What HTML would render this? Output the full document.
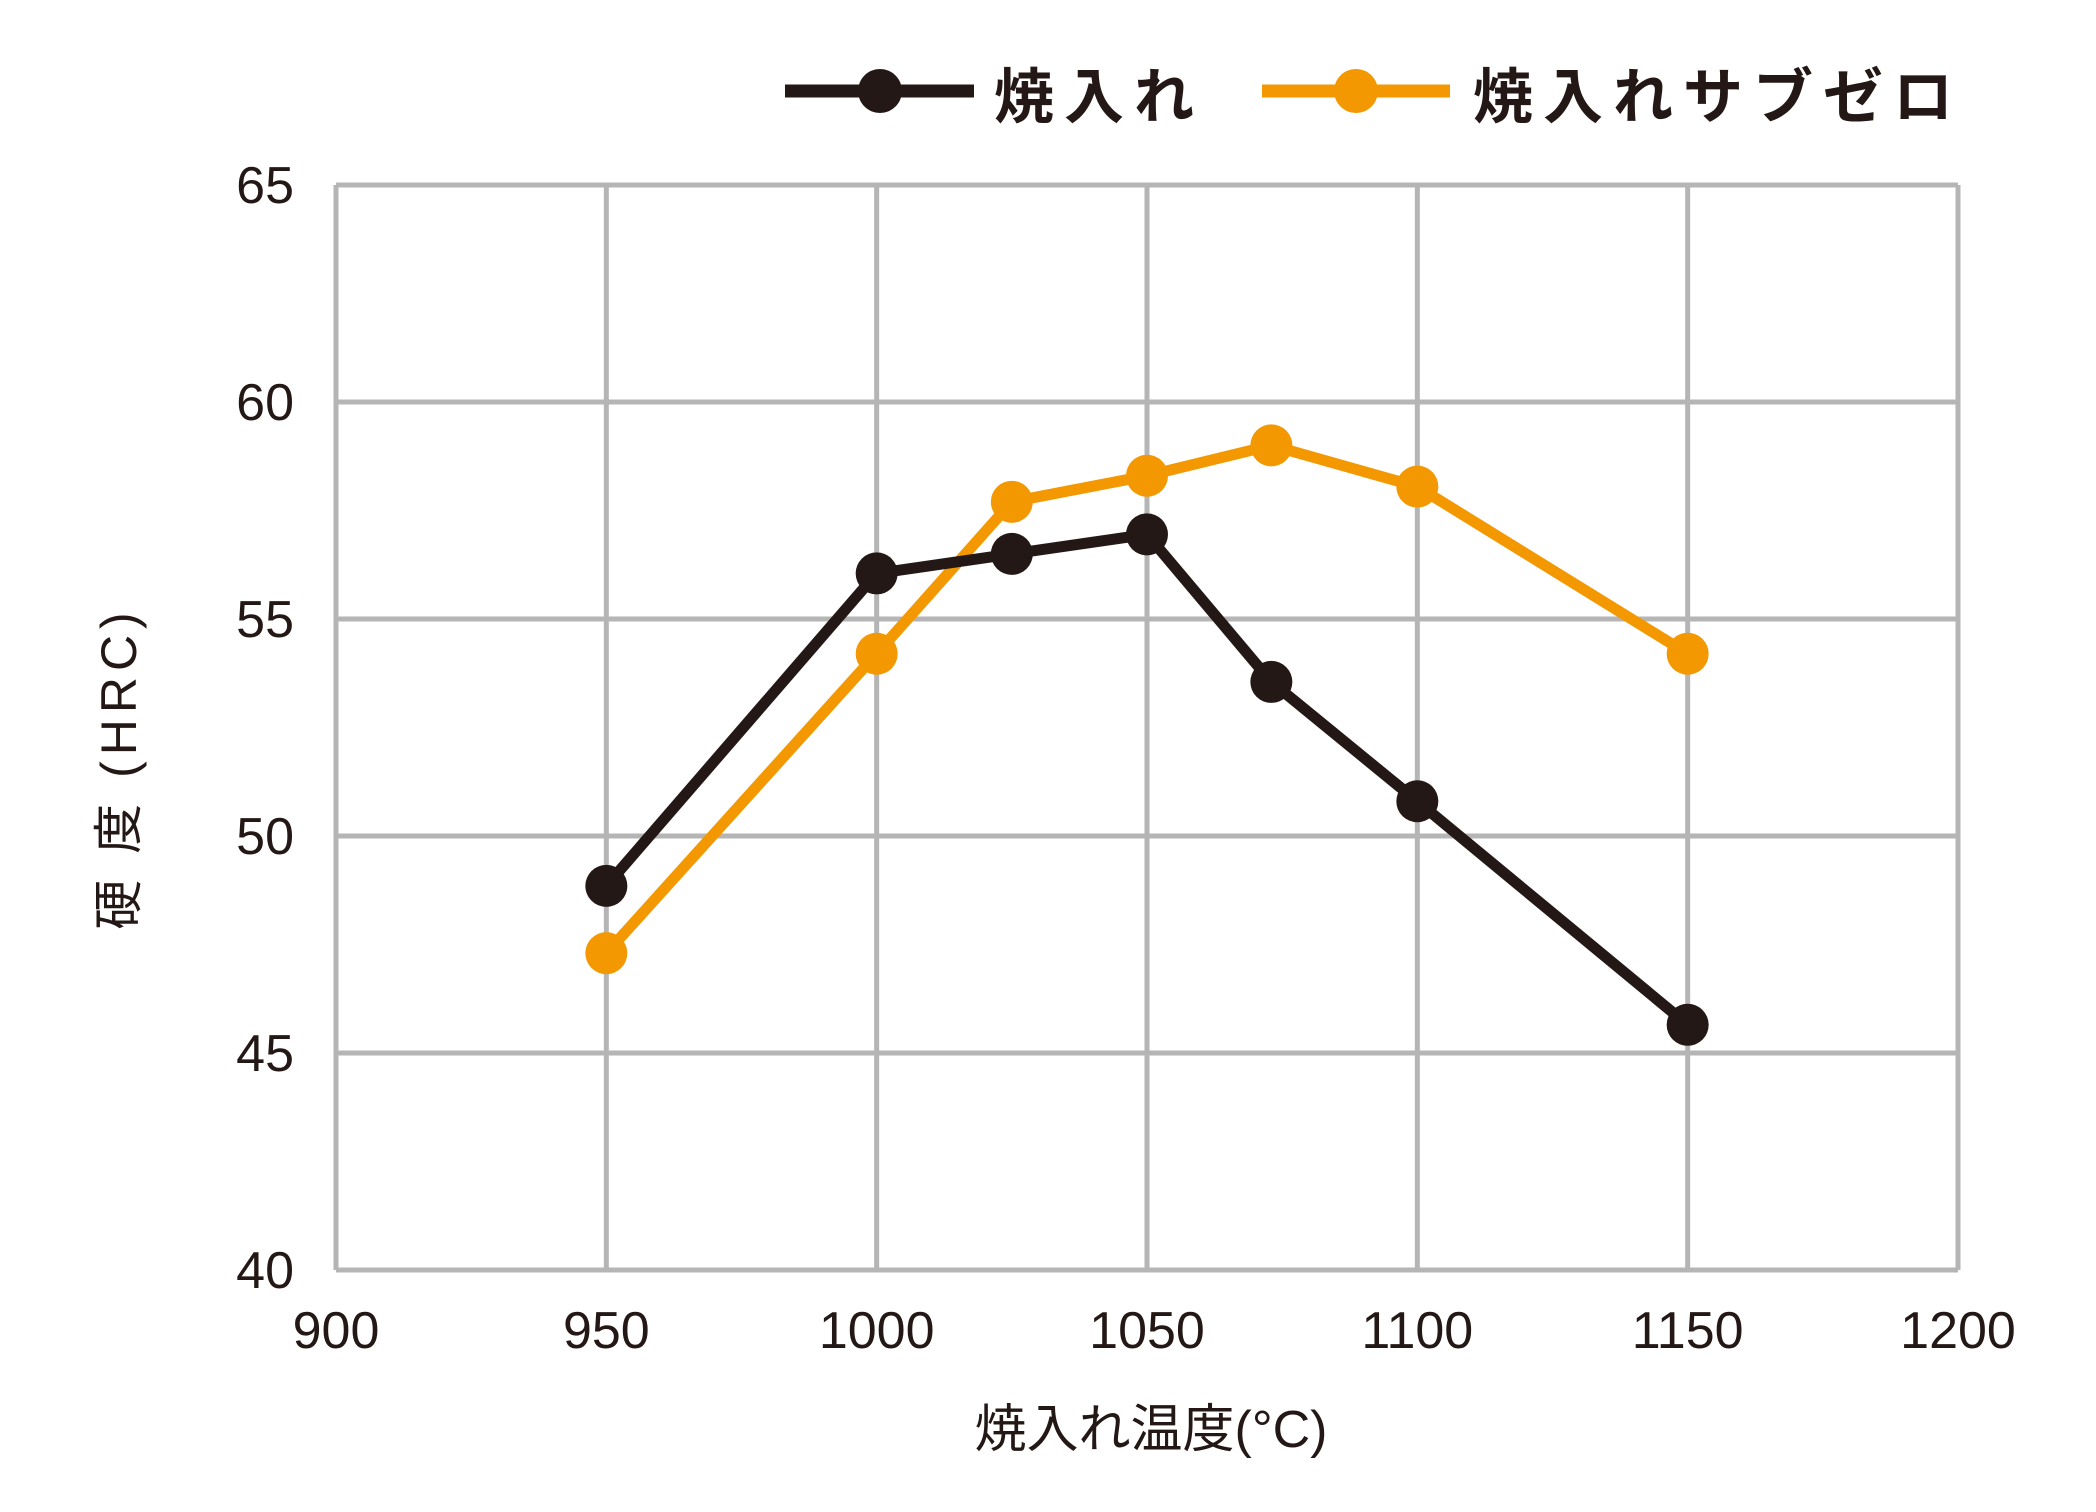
<!DOCTYPE html>
<html><head><meta charset="utf-8"><style>
html,body{margin:0;padding:0;background:#fff;}
svg text{font-family:"Liberation Sans","Noto Sans CJK JP",sans-serif;}
</style></head><body>
<svg id="chart" width="2096" height="1507" viewBox="0 0 2096 1507" xmlns="http://www.w3.org/2000/svg">
<g id="grid"></g>
<g id="axes"></g>
<g id="series"></g>
<g id="legend">
  <line x1="785" y1="91" x2="974" y2="91" stroke="#231815" stroke-width="13"/>
  <circle cx="880" cy="91" r="22" fill="#231815"/>
  <text x="994" y="118" font-size="60" font-weight="bold" fill="#231815" letter-spacing="10">焼入れ</text>
  <line x1="1262" y1="91" x2="1450" y2="91" stroke="#f39800" stroke-width="13"/>
  <circle cx="1356" cy="91" r="22" fill="#f39800"/>
  <text x="1473" y="118" font-size="60" font-weight="bold" fill="#231815" letter-spacing="10">焼入れサブゼロ</text>
</g>
<text x="1151" y="1447" font-size="52" fill="#231815" text-anchor="middle">焼入れ温度(°C)</text>
<text x="0" y="0" font-size="50" fill="#231815" text-anchor="middle" letter-spacing="6" transform="translate(136,768) rotate(-90)">硬 度 (HRC)</text>
</svg>
<script>
const xTicks=[900,950,1000,1050,1100,1150,1200];
const yTicks=[40,45,50,55,60,65];
const quenchX=[950,1000,1025,1050,1073,1100,1150];
const quenchY=[48.85,56.05,56.5,56.95,53.55,50.8,45.65];
const subzeroX=[950,1000,1025,1050,1073,1100,1150];
const subzeroY=[47.3,54.2,57.7,58.3,59.0,58.05,54.2];
const L=336,R=1958,T=185,B=1270;
const xs=v=>L+(v-900)/(1200-900)*(R-L);
const ys=v=>B-(v-40)/(65-40)*(B-T);
const NS='http://www.w3.org/2000/svg';
function mk(tag,attrs,parent){const e=document.createElementNS(NS,tag);for(const k in attrs)e.setAttribute(k,attrs[k]);parent.appendChild(e);return e;}
const grid=document.getElementById('grid'),axes=document.getElementById('axes'),series=document.getElementById('series');
xTicks.forEach(t=>{
  const l=mk('line',{x1:xs(t),x2:xs(t),y1:T,y2:B,stroke:'#b5b5b5','stroke-width':5},grid);
  
  
  const tx=mk('text',{x:xs(t),y:1348,'font-size':52,fill:'#231815','text-anchor':'middle'},axes);
  tx.textContent=t;
  
  
});
yTicks.forEach(t=>{
  const l=mk('line',{x1:L,x2:R,y1:ys(t),y2:ys(t),stroke:'#b5b5b5','stroke-width':5},grid);
  
  
  const tx=mk('text',{x:294,y:ys(t)+18,'font-size':52,fill:'#231815','text-anchor':'end'},axes);
  tx.textContent=t;
  
  
});
function drawSeries(X,Y,color,name){
  const pts=X.map((x,i)=>xs(x)+','+ys(Y[i])).join(' ');
  const pl=mk('polyline',{points:pts,fill:'none',stroke:color,'stroke-width':11,'stroke-linejoin':'miter'},series);
  
  
  X.forEach((x,i)=>{
    const c=mk('circle',{cx:xs(x),cy:ys(Y[i]),r:21,fill:color},series);
    
    
  });
}
drawSeries(subzeroX,subzeroY,'#f39800','subzero');
drawSeries(quenchX,quenchY,'#231815','quench');
</script>
</body></html>
